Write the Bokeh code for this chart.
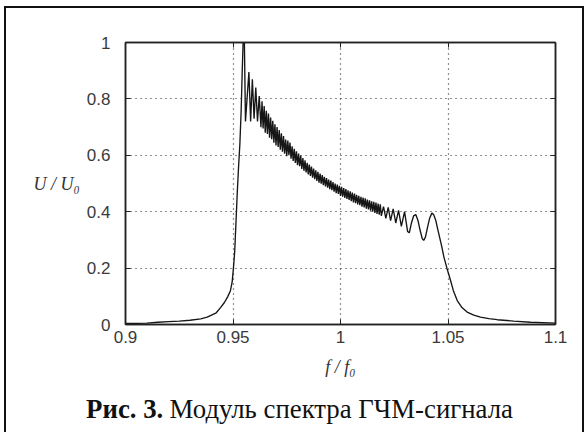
from bokeh.plotting import figure
from bokeh.models import FixedTicker, LinearAxis, Range1d
from bokeh.core.properties import value
from bokeh.embed import file_html
from bokeh.resources import INLINE

# ---- data ----
# rising edge and first spikes
rise_f = [0.9000, 0.9050, 0.9100, 0.9150, 0.9200, 0.9250, 0.9300, 0.9350, 0.9380,
          0.9420, 0.9442, 0.9460, 0.9475, 0.9488, 0.9496, 0.9502, 0.9508, 0.9512,
          0.9516, 0.9520, 0.9526, 0.9532, 0.9538, 0.9543, 0.9547, 0.9553, 0.9558,
          0.9574, 0.9582, 0.9590, 0.9598, 0.9606, 0.9614, 0.9622]
rise_v = [0.004, 0.004, 0.005, 0.008, 0.010, 0.012, 0.015, 0.020, 0.026,
          0.040, 0.060, 0.078, 0.098, 0.120, 0.150, 0.200, 0.260, 0.330,
          0.400, 0.470, 0.560, 0.640, 0.760, 0.900, 1.000, 1.000, 0.720,
          0.895, 0.720, 0.870, 0.730, 0.840, 0.720, 0.810]

# dense ripple band
band_f = [0.9630, 0.9635, 0.9640, 0.9645, 0.9650, 0.9655, 0.9660, 0.9665, 0.9670, 0.9675,
          0.9680, 0.9685, 0.9690, 0.9695, 0.9700, 0.9705, 0.9710, 0.9715, 0.9720, 0.9725,
          0.9730, 0.9735, 0.9740, 0.9745, 0.9750, 0.9755, 0.9760, 0.9765, 0.9770, 0.9775,
          0.9780, 0.9785, 0.9790, 0.9795, 0.9800, 0.9805, 0.9810, 0.9815, 0.9820, 0.9825,
          0.9830, 0.9835, 0.9840, 0.9845, 0.9850, 0.9855, 0.9860, 0.9865, 0.9870, 0.9875,
          0.9880, 0.9885, 0.9890, 0.9895, 0.9900, 0.9905, 0.9910, 0.9915, 0.9920, 0.9925,
          0.9930, 0.9935, 0.9940, 0.9945, 0.9950, 0.9955, 0.9960, 0.9965, 0.9970, 0.9975,
          0.9980, 0.9985, 0.9990, 0.9995, 1.0000, 1.0005, 1.0010, 1.0015, 1.0020, 1.0025,
          1.0030, 1.0035, 1.0040, 1.0045, 1.0050, 1.0055, 1.0060, 1.0065, 1.0070, 1.0075,
          1.0080, 1.0085, 1.0090, 1.0095, 1.0100, 1.0105, 1.0110, 1.0115, 1.0120, 1.0125,
          1.0130, 1.0135, 1.0140, 1.0145, 1.0150, 1.0155, 1.0160, 1.0165, 1.0170, 1.0175,
          1.0180, 1.0185, 1.0190]
band_v = [0.700, 0.792, 0.695, 0.775, 0.680, 0.758, 0.676, 0.748, 0.662, 0.734,
          0.657, 0.722, 0.645, 0.710, 0.635, 0.700, 0.630, 0.690, 0.620, 0.678,
          0.613, 0.668, 0.606, 0.656, 0.597, 0.652, 0.600, 0.645, 0.588, 0.632,
          0.580, 0.623, 0.573, 0.614, 0.565, 0.606, 0.561, 0.599, 0.552, 0.590,
          0.545, 0.582, 0.539, 0.573, 0.532, 0.567, 0.527, 0.560, 0.521, 0.553,
          0.515, 0.547, 0.509, 0.541, 0.503, 0.535, 0.499, 0.530, 0.494, 0.524,
          0.490, 0.519, 0.485, 0.514, 0.480, 0.510, 0.476, 0.505, 0.471, 0.500,
          0.466, 0.496, 0.463, 0.492, 0.456, 0.488, 0.453, 0.484, 0.449, 0.480,
          0.445, 0.476, 0.442, 0.472, 0.437, 0.468, 0.433, 0.464, 0.430, 0.460,
          0.426, 0.456, 0.423, 0.453, 0.418, 0.450, 0.415, 0.447, 0.411, 0.443,
          0.408, 0.440, 0.404, 0.437, 0.400, 0.435, 0.396, 0.432, 0.392, 0.429,
          0.389, 0.426, 0.385]

# wide ripples and falling edge
tail_f = [1.0200, 1.0211, 1.0222, 1.0233, 1.0245, 1.0257, 1.0270, 1.0283, 1.0298, 1.0312,
          1.0320, 1.0330, 1.0340, 1.0350, 1.0360, 1.0370, 1.0380, 1.0387, 1.0395, 1.0405,
          1.0415, 1.0425, 1.0433, 1.0443, 1.0450, 1.0457, 1.0470, 1.0481, 1.0496, 1.0512,
          1.0525, 1.0543, 1.0565, 1.0589, 1.0620, 1.0651, 1.0690, 1.0729, 1.0806, 1.0884,
          1.1000]
tail_v = [0.418, 0.376, 0.415, 0.368, 0.410, 0.360, 0.405, 0.348, 0.400, 0.330,
          0.325, 0.360, 0.385, 0.390, 0.370, 0.335, 0.305, 0.298, 0.310, 0.345,
          0.378, 0.395, 0.390, 0.370, 0.345, 0.322, 0.280, 0.239, 0.197, 0.156,
          0.120, 0.085, 0.060, 0.044, 0.033, 0.026, 0.021, 0.017, 0.012, 0.008,
          0.005]

freq = rise_f + band_f + tail_f
amp = rise_v + band_v + tail_v

x_ticks = [0.9, 0.95, 1.0, 1.05, 1.1]
x_tick_labels = ["0.9", "0.95", "1", "1.05", "1.1"]
y_ticks = [0.0, 0.2, 0.4, 0.6, 0.8, 1.0]
y_tick_labels = ["0", "0.2", "0.4", "0.6", "0.8", "1"]

x_label = "f / f\u2080"
y_label = "U / U\u2080"
caption_bold = "Рис. 3."
caption_text = "Модуль спектра ГЧМ-сигнала"

TICK_FONT = "Liberation Sans"
SERIF = "Liberation Serif"
INK = "#222222"
EDGE = "2px solid #111"

p = figure(
    frame_width=430, frame_height=282,
    x_range=Range1d(0.9, 1.1), y_range=Range1d(0, 1),
    min_border_left=119, min_border_right=27,
    min_border_top=34, min_border_bottom=66,
    output_backend="svg", toolbar_location=None, tools="",
    background_fill_color="white", border_fill_color="white",
)
p.styles = {"margin-left": "4px", "margin-top": "6px",
            "border-left": EDGE, "border-top": EDGE, "border-right": EDGE}

p.line(freq, amp, line_color="#161616", line_width=1.35)

p.outline_line_color = INK
p.outline_line_width = 1.5

for ax, ticks, labels in ((p.xaxis[0], x_ticks, dict(zip(x_ticks, x_tick_labels))),
                          (p.yaxis[0], y_ticks, dict(zip(y_ticks, y_tick_labels)))):
    ax.ticker = FixedTicker(ticks=ticks)
    ax.major_label_overrides = labels
    ax.minor_tick_line_color = None
    ax.major_tick_in = 5
    ax.major_tick_out = 0
    ax.major_tick_line_color = INK
    ax.axis_line_color = INK
    ax.axis_line_width = 1.5
    ax.major_label_text_font = TICK_FONT
    ax.major_label_text_font_size = "17px"
    ax.major_label_text_color = "#3a3a3a"
    ax.axis_label_text_font = SERIF
    ax.axis_label_text_font_style = "italic"
    ax.axis_label_text_font_size = "18px"
    ax.axis_label_text_color = "#333333"

p.xaxis[0].axis_label = x_label
p.xaxis[0].major_label_standoff = 6
p.xaxis[0].axis_label_standoff = 11
p.yaxis[0].axis_label = y_label
p.yaxis[0].axis_label_orientation = "horizontal"
p.yaxis[0].major_label_standoff = 15
p.yaxis[0].axis_label_standoff = 4

# mirrored inward ticks on the top and right edges (labels not drawn)
for loc, ticks in (("right", y_ticks), ("above", x_ticks)):
    a = LinearAxis(ticker=FixedTicker(ticks=ticks), major_tick_in=5, major_tick_out=0,
                   minor_tick_line_color=None, major_label_text_font_size="1px",
                   major_label_text_color=None, axis_line_color=INK, axis_line_width=1.5,
                   major_tick_line_color=INK, major_label_standoff=0)
    p.add_layout(a, loc)

p.xgrid.ticker = FixedTicker(ticks=x_ticks)
p.ygrid.ticker = FixedTicker(ticks=y_ticks)
for g in (p.xgrid[0], p.ygrid[0]):
    g.grid_line_color = INK
    g.grid_line_dash = "1 4"
    g.grid_line_width = 1.2

# caption strip (separate root so its frame spans its whole width)
c = figure(width=580, height=42, x_range=Range1d(0, 1), y_range=Range1d(0, 1),
           min_border=0, output_backend="svg", toolbar_location=None, tools="",
           background_fill_color="white", border_fill_color="white")
c.styles = {"margin-left": "4px", "border-left": EDGE, "border-right": EDGE}
c.axis.visible = False
c.grid.visible = False
c.outline_line_color = None
c.text(x=[0.1372], y=[0.571], text=[caption_bold], text_font=value(SERIF),
       text_font_style="bold", text_font_size="26.8px", text_baseline="middle",
       text_align="left", text_color="#111111")
c.text(x=[0.2812], y=[0.571], text=[caption_text], text_font=value(SERIF),
       text_font_size="26.8px", text_baseline="middle", text_align="left",
       text_color="#111111")

open("out.html", "w").write(file_html([p, c], INLINE))
